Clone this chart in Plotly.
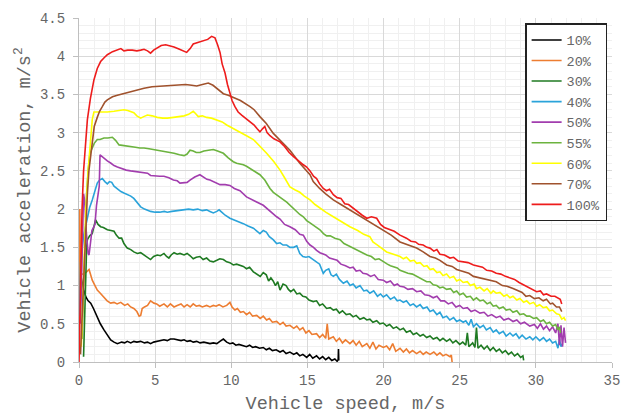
import plotly.graph_objects as go

# ---- data: (vehicle speed m/s, vehicle acceleration m/s^2) ----
labels = ["10%", "20%", "30%", "40%", "50%", "55%", "60%", "70%", "100%"]

pts_10 = [(0.03,0.95),(0.08,1.05),(0.15,1.1),(0.3,0.95),(0.45,0.85),(0.6,0.8),(0.77,0.77),(0.95,0.7),
          (1.2,0.59),(1.4,0.5),(1.64,0.42),(1.85,0.35),(2.08,0.29),(2.3,0.26),(2.52,0.24),(2.8,0.26),
          (3.0,0.25),(3.17,0.27),(3.4,0.25),(3.6,0.27),(3.8,0.26),(4.05,0.27),(4.3,0.25),(4.5,0.26),
          (4.7,0.24),(4.9,0.26),(5.1,0.27),(5.35,0.28),(5.58,0.29),(5.8,0.28),(6.0,0.3),(6.24,0.3),
          (6.5,0.29),(6.7,0.28),(6.9,0.29),(7.1,0.27),(7.3,0.28),(7.5,0.26),(7.73,0.27),(7.95,0.25),
          (8.2,0.26),(8.4,0.25),(8.6,0.24),(8.82,0.25),(9.05,0.24),(9.25,0.27),(9.48,0.3),(9.7,0.26),
          (9.91,0.24),(10.1,0.25),(10.3,0.22),(10.5,0.23),(10.75,0.21),(11.0,0.2),(11.2,0.22),(11.4,0.19),
          (11.6,0.2),(11.85,0.18),(12.1,0.19),(12.3,0.16),(12.5,0.18),(12.7,0.15),(12.95,0.16),(13.2,0.13),
          (13.4,0.15),(13.6,0.11),(13.85,0.13),(14.1,0.1),(14.3,0.12),(14.5,0.08),(14.7,0.1),(14.95,0.06),
          (15.15,0.1),(15.35,0.05),(15.6,0.08),(15.8,0.04),(16.0,0.07),(16.2,0.03),(16.4,0.06),(16.6,0.02),
          (16.8,0.04),(16.95,0.01),(17.02,0.03),(17.04,0.17),(17.06,0.02)]

pts_20 = [(0.02,0.3),(0.05,2.0),(0.1,1.15),(0.3,1.15),(0.5,1.18),(0.66,1.21),(0.75,1.15),(0.87,1.07),
          (1.05,1.0),(1.2,0.94),(1.4,0.9),(1.64,0.85),(1.85,0.8),(2.08,0.77),(2.3,0.78),(2.5,0.76),
          (2.74,0.78),(3.0,0.74),(3.2,0.76),(3.39,0.72),(3.6,0.7),(3.8,0.66),(3.95,0.6),(4.05,0.61),
          (4.15,0.7),(4.3,0.72),(4.5,0.74),(4.7,0.8),(4.92,0.77),(5.1,0.76),(5.3,0.73),(5.58,0.76),
          (5.8,0.72),(6.0,0.76),(6.24,0.72),(6.45,0.74),(6.7,0.76),(6.9,0.72),(7.1,0.75),(7.3,0.72),
          (7.5,0.76),(7.7,0.73),(7.9,0.74),(8.1,0.72),(8.38,0.74),(8.6,0.72),(8.82,0.74),(9.0,0.73),
          (9.2,0.75),(9.45,0.72),(9.7,0.74),(9.91,0.78),(10.05,0.72),(10.24,0.68),(10.4,0.7),(10.6,0.65),
          (10.8,0.66),(11.0,0.62),(11.2,0.65),(11.4,0.6),(11.67,0.61),(11.9,0.57),(12.1,0.6),(12.32,0.55),
          (12.5,0.57),(12.7,0.52),(12.98,0.53),(13.2,0.49),(13.4,0.52),(13.6,0.47),(13.85,0.48),(14.1,0.44),
          (14.3,0.47),(14.5,0.42),(14.7,0.45),(14.9,0.38),(15.1,0.41),(15.3,0.36),(15.6,0.37),(15.8,0.32),
          (16.0,0.36),(16.2,0.31),(16.3,0.5),(16.4,0.3),(16.7,0.33),(16.9,0.27),(17.1,0.31),(17.3,0.25),
          (17.5,0.29),(17.79,0.24),(18.0,0.28),(18.2,0.22),(18.4,0.27),(18.6,0.2),(18.9,0.24),(19.1,0.18),
          (19.3,0.26),(19.5,0.17),(19.7,0.22),(19.98,0.19),(20.2,0.21),(20.4,0.16),(20.6,0.24),(20.8,0.14),
          (21.08,0.18),(21.3,0.13),(21.5,0.17),(21.7,0.12),(21.9,0.15),(22.17,0.11),(22.4,0.14),(22.6,0.1),
          (22.8,0.13),(23.05,0.1),(23.3,0.13),(23.5,0.09),(23.7,0.12),(23.9,0.08),(24.1,0.1),(24.36,0.07),
          (24.45,0.09),(24.5,0.0)]

pts_30 = [(0.3,0.07),(0.33,0.3),(0.4,1.0),(0.5,1.5),(0.55,1.6),(0.7,1.65),(0.87,1.68),(1.0,1.8),
          (1.09,1.86),(1.25,1.8),(1.42,1.77),(1.6,1.76),(1.86,1.73),(2.1,1.72),(2.3,1.71),(2.45,1.66),
          (2.63,1.62),(2.8,1.62),(2.95,1.55),(3.17,1.49),(3.4,1.47),(3.6,1.44),(3.83,1.42),(4.05,1.43),
          (4.27,1.4),(4.5,1.37),(4.7,1.34),(4.9,1.38),(5.14,1.4),(5.35,1.39),(5.58,1.42),(5.75,1.38),
          (5.9,1.36),(6.05,1.4),(6.24,1.43),(6.45,1.41),(6.63,1.42),(6.9,1.4),(7.1,1.42),(7.3,1.39),
          (7.5,1.35),(7.7,1.37),(7.94,1.38),(8.15,1.34),(8.38,1.36),(8.6,1.32),(8.82,1.31),(9.05,1.33),
          (9.25,1.35),(9.48,1.34),(9.7,1.31),(9.91,1.3),(10.13,1.27),(10.35,1.28),(10.57,1.26),(10.79,1.25),
          (11.0,1.22),(11.2,1.24),(11.45,1.18),(11.65,1.15),(11.9,1.12),(12.1,1.17),(12.3,1.14),(12.45,1.06),
          (12.6,1.1),(12.75,1.06),(12.9,1.0),(13.05,1.05),(13.2,0.94),(13.4,1.02),(13.6,1.0),(13.75,0.95),
          (13.9,0.92),(14.1,0.95),(14.3,0.89),(14.5,0.9),(14.7,0.86),(14.9,0.85),(15.1,0.81),(15.38,0.79),
          (15.6,0.8),(15.8,0.74),(16.0,0.76),(16.26,0.7),(16.5,0.71),(16.7,0.68),(16.9,0.69),(17.1,0.64),
          (17.3,0.67),(17.55,0.62),(17.79,0.63),(18.0,0.59),(18.2,0.61),(18.45,0.56),(18.7,0.58),(18.9,0.55),
          (19.1,0.56),(19.3,0.52),(19.55,0.54),(19.75,0.5),(19.98,0.51),(20.2,0.47),(20.4,0.49),(20.64,0.44),
          (20.85,0.46),(21.08,0.42),(21.3,0.44),(21.5,0.39),(21.75,0.41),(21.95,0.36),(22.17,0.38),(22.4,0.34),
          (22.6,0.36),(22.83,0.32),(23.05,0.34),(23.26,0.3),(23.5,0.32),(23.7,0.28),(23.9,0.31),(24.14,0.27),
          (24.35,0.3),(24.55,0.25),(24.75,0.28),(25.0,0.23),(25.2,0.26),(25.4,0.22),(25.5,0.38),(25.6,0.2),
          (25.85,0.25),(26.0,0.19),(26.1,0.45),(26.2,0.18),(26.4,0.22),(26.6,0.17),(26.8,0.21),(27.0,0.15),
          (27.2,0.19),(27.4,0.14),(27.6,0.17),(27.8,0.12),(28.0,0.15),(28.2,0.1),(28.4,0.13),(28.6,0.08),
          (28.8,0.11),(29.0,0.06),(29.15,0.08),(29.2,0.02)]

pts_40 = [(0.05,0.6),(0.11,1.3),(0.3,1.65),(0.55,1.9),(0.7,2.02),(0.87,2.12),(1.05,2.25),(1.2,2.34),
          (1.35,2.38),(1.53,2.4),(1.7,2.36),(1.86,2.33),(2.0,2.36),(2.15,2.35),(2.3,2.3),(2.52,2.26),
          (2.75,2.23),(2.95,2.21),(3.17,2.19),(3.4,2.17),(3.6,2.14),(3.83,2.08),(4.05,2.03),(4.3,2.0),
          (4.5,1.98),(4.7,1.97),(5.0,1.96),(5.3,1.96),(5.6,1.97),(5.8,1.96),(6.1,1.97),(6.4,1.98),
          (6.63,1.98),(6.9,1.99),(7.2,2.0),(7.5,1.99),(7.8,2.0),(8.1,1.98),(8.38,1.99),(8.6,1.97),
          (8.82,1.95),(9.05,1.97),(9.2,1.99),(9.37,1.96),(9.6,1.92),(9.91,1.88),(10.2,1.86),(10.5,1.83),
          (10.79,1.81),(11.1,1.78),(11.45,1.75),(11.7,1.71),(11.88,1.68),(12.1,1.72),(12.3,1.7),(12.5,1.64),
          (12.75,1.6),(12.98,1.55),(13.2,1.56),(13.4,1.53),(13.64,1.53),(13.85,1.5),(14.1,1.5),(14.3,1.52),
          (14.4,1.48),(14.5,1.42),(14.7,1.38),(14.9,1.37),(15.1,1.38),(15.38,1.34),(15.6,1.3),(15.8,1.28),
          (16.04,1.16),(16.2,1.2),(16.4,1.22),(16.55,1.14),(16.7,1.12),(16.9,1.15),(17.1,1.08),(17.36,1.03),
          (17.6,1.06),(17.8,1.0),(18.0,1.02),(18.2,0.97),(18.45,1.0),(18.7,0.93),(18.9,0.94),(19.1,0.9),
          (19.35,0.93),(19.6,0.86),(19.8,0.89),(19.98,0.85),(20.2,0.88),(20.45,0.82),(20.7,0.85),(20.9,0.8),
          (21.08,0.81),(21.3,0.78),(21.5,0.8),(21.75,0.74),(21.95,0.76),(22.17,0.72),(22.4,0.75),(22.6,0.7),
          (22.85,0.72),(23.05,0.66),(23.26,0.68),(23.5,0.62),(23.7,0.65),(23.9,0.58),(24.14,0.6),(24.35,0.55),
          (24.6,0.58),(24.8,0.53),(25.0,0.55),(25.23,0.52),(25.4,0.54),(25.6,0.48),(25.75,0.56),(25.9,0.46),
          (26.1,0.5),(26.33,0.45),(26.55,0.48),(26.75,0.42),(27.0,0.45),(27.2,0.39),(27.4,0.42),(27.6,0.37),
          (27.85,0.4),(28.05,0.34),(28.3,0.38),(28.5,0.34),(28.7,0.37),(28.9,0.31),(29.1,0.35),(29.35,0.3),
          (29.6,0.33),(29.8,0.29),(30.0,0.33),(30.25,0.28),(30.5,0.32),(30.7,0.27),(30.9,0.3),(31.1,0.25),
          (31.3,0.27),(31.45,0.18),(31.55,0.3),(31.65,0.2),(31.75,0.24)]

pts_50 = [(0.1,0.5),(0.2,1.6),(0.3,2.2),(0.38,2.1),(0.48,1.7),(0.6,1.42),(0.66,1.4),(0.75,1.55),
          (0.85,1.72),(0.98,1.77),(1.05,1.8),(1.15,2.05),(1.25,2.2),(1.33,2.3),(1.38,2.71),(1.5,2.69),
          (1.65,2.66),(1.86,2.63),(2.1,2.6),(2.3,2.57),(2.52,2.55),(2.8,2.53),(3.1,2.51),(3.39,2.5),
          (3.7,2.49),(4.0,2.49),(4.27,2.48),(4.5,2.47),(4.7,2.44),(5.0,2.43),(5.3,2.43),(5.58,2.43),
          (5.9,2.41),(6.2,2.38),(6.45,2.37),(6.63,2.34),(6.9,2.35),(7.1,2.35),(7.29,2.38),(7.6,2.42),
          (7.94,2.45),(8.2,2.42),(8.4,2.39),(8.6,2.38),(8.9,2.35),(9.26,2.32),(9.6,2.32),(9.91,2.31),
          (10.2,2.27),(10.57,2.24),(11.0,2.16),(11.23,2.14),(11.6,2.1),(12.1,2.05),(12.4,2.0),(12.7,1.94),
          (12.98,1.9),(13.2,1.87),(13.5,1.8),(13.85,1.77),(14.2,1.73),(14.5,1.67),(14.73,1.66),(14.95,1.58),
          (15.17,1.53),(15.4,1.5),(15.6,1.46),(15.82,1.43),(16.0,1.42),(16.2,1.4),(16.45,1.36),(16.7,1.34),
          (16.95,1.33),(17.2,1.28),(17.5,1.26),(17.79,1.23),(18.0,1.24),(18.2,1.19),(18.45,1.2),(18.65,1.16),
          (18.9,1.15),(19.15,1.12),(19.4,1.14),(19.65,1.08),(19.98,1.07),(20.2,1.04),(20.45,1.06),(20.7,1.0),
          (20.9,1.02),(21.08,0.99),(21.35,0.98),(21.6,0.95),(21.9,0.96),(22.17,0.92),(22.45,0.93),(22.7,0.88),
          (23.0,0.87),(23.26,0.84),(23.5,0.86),(23.75,0.8),(24.0,0.8),(24.25,0.76),(24.5,0.78),(24.75,0.72),
          (25.0,0.74),(25.23,0.7),(25.5,0.71),(25.75,0.66),(26.0,0.68),(26.33,0.64),(26.6,0.65),(26.85,0.6),
          (27.1,0.62),(27.4,0.58),(27.65,0.6),(27.9,0.55),(28.2,0.57),(28.5,0.53),(28.75,0.55),(29.0,0.5),
          (29.25,0.52),(29.6,0.47),(29.9,0.49),(30.1,0.44),(30.3,0.5),(30.5,0.43),(30.7,0.47),(30.9,0.41),
          (31.1,0.46),(31.3,0.38),(31.45,0.5),(31.55,0.22),(31.65,0.48),(31.75,0.2),(31.85,0.45),(31.95,0.25)]

pts_55 = [(0.2,0.3),(0.35,1.2),(0.5,2.2),(0.6,2.5),(0.72,2.73),(0.87,2.8),(1.0,2.86),(1.2,2.91),
          (1.38,2.91),(1.64,2.93),(1.9,2.93),(2.19,2.94),(2.4,2.9),(2.63,2.84),(2.9,2.83),(3.2,2.82),
          (3.39,2.82),(3.7,2.81),(4.0,2.8),(4.27,2.8),(4.6,2.79),(4.9,2.78),(5.14,2.77),(5.5,2.76),
          (5.9,2.74),(6.24,2.73),(6.6,2.71),(6.9,2.7),(7.1,2.72),(7.29,2.77),(7.5,2.76),(7.7,2.74),
          (7.94,2.74),(8.2,2.76),(8.5,2.77),(8.82,2.78),(9.1,2.76),(9.48,2.73),(9.8,2.67),(10.13,2.62),
          (10.35,2.6),(10.6,2.59),(10.79,2.58),(11.0,2.56),(11.3,2.52),(11.67,2.47),(11.88,2.45),(12.2,2.38),
          (12.54,2.27),(12.76,2.22),(13.0,2.18),(13.3,2.14),(13.64,2.09),(14.0,2.02),(14.3,1.97),(14.5,1.93),
          (14.73,1.9),(14.95,1.85),(15.17,1.82),(15.5,1.78),(15.82,1.73),(16.05,1.68),(16.26,1.65),(16.5,1.65),
          (16.8,1.62),(17.14,1.6),(17.4,1.55),(17.7,1.52),(18.0,1.49),(18.2,1.46),(18.45,1.44),(18.7,1.42),
          (18.9,1.4),(19.2,1.38),(19.45,1.34),(19.7,1.35),(19.98,1.31),(20.25,1.28),(20.45,1.26),(20.7,1.24),
          (20.9,1.23),(21.08,1.2),(21.35,1.18),(21.6,1.16),(21.9,1.15),(22.17,1.12),(22.4,1.1),(22.6,1.07),
          (22.83,1.05),(23.05,1.05),(23.26,1.01),(23.5,1.0),(23.7,0.97),(23.9,0.98),(24.14,0.95),(24.4,0.96),
          (24.6,0.91),(24.8,0.93),(25.0,0.88),(25.23,0.9),(25.45,0.85),(25.7,0.86),(25.9,0.81),(26.1,0.84),
          (26.33,0.8),(26.55,0.81),(26.8,0.76),(27.0,0.78),(27.2,0.73),(27.4,0.74),(27.6,0.7),(27.85,0.72),
          (28.05,0.68),(28.3,0.69),(28.5,0.65),(28.75,0.67),(28.95,0.62),(29.2,0.63),(29.4,0.6),(29.6,0.6),
          (29.85,0.57),(30.05,0.58),(30.3,0.53),(30.5,0.55),(30.7,0.5),(30.9,0.52),(31.1,0.47),(31.3,0.49),
          (31.45,0.42),(31.55,0.46),(31.62,0.38)]

pts_60 = [(0.15,0.2),(0.3,1.2),(0.45,2.0),(0.6,2.5),(0.75,2.9),(0.87,3.17),(0.98,3.27),(1.2,3.27),
          (1.5,3.27),(1.86,3.27),(2.3,3.28),(2.7,3.29),(2.95,3.3),(3.2,3.29),(3.4,3.27),(3.6,3.26),
          (3.8,3.22),(4.05,3.19),(4.25,3.21),(4.49,3.23),(4.8,3.22),(5.14,3.2),(5.5,3.19),(5.8,3.19),
          (6.2,3.2),(6.6,3.21),(6.9,3.22),(7.2,3.24),(7.5,3.28),(7.65,3.25),(7.83,3.21),(8.1,3.22),
          (8.38,3.2),(8.7,3.19),(9.04,3.17),(9.4,3.14),(9.7,3.1),(10.1,3.06),(10.57,3.01),(11.0,2.96),
          (11.45,2.91),(11.9,2.82),(12.32,2.73),(12.8,2.62),(13.2,2.51),(13.5,2.41),(13.85,2.29),(14.2,2.25),
          (14.5,2.22),(14.8,2.17),(15.17,2.12),(15.5,2.06),(15.82,2.01),(16.2,1.96),(16.7,1.9),(17.2,1.84),
          (17.79,1.77),(18.3,1.72),(18.7,1.67),(19.1,1.64),(19.3,1.57),(19.6,1.53),(19.9,1.48),(20.2,1.44),
          (20.5,1.42),(20.8,1.4),(21.08,1.38),(21.3,1.35),(21.5,1.37),(21.75,1.32),(22.0,1.33),(22.17,1.29),
          (22.4,1.3),(22.65,1.25),(22.85,1.26),(23.05,1.21),(23.26,1.22),(23.5,1.17),(23.7,1.18),(23.9,1.13),
          (24.14,1.15),(24.35,1.1),(24.6,1.12),(24.8,1.06),(25.0,1.08),(25.23,1.04),(25.5,1.05),(25.7,1.0),
          (25.95,1.02),(26.1,0.96),(26.33,0.98),(26.6,0.93),(26.8,0.96),(27.05,0.9),(27.2,0.93),(27.4,0.9),
          (27.65,0.91),(27.9,0.86),(28.1,0.88),(28.3,0.84),(28.5,0.86),(28.75,0.81),(28.95,0.83),(29.2,0.78),
          (29.4,0.8),(29.6,0.76),(29.85,0.78),(30.05,0.73),(30.25,0.75),(30.48,0.71),(30.7,0.72),(30.9,0.67),
          (31.1,0.68),(31.36,0.63),(31.55,0.62),(31.7,0.56),(31.85,0.58),(31.95,0.54)]

pts_70 = [(0.1,0.1),(0.25,0.8),(0.4,1.6),(0.55,2.2),(0.65,2.5),(0.77,2.73),(0.9,2.98),(1.0,3.08),
          (1.2,3.2),(1.35,3.28),(1.53,3.34),(1.7,3.4),(1.86,3.43),(2.2,3.47),(2.52,3.49),(2.9,3.51),
          (3.39,3.54),(3.8,3.56),(4.27,3.58),(4.8,3.6),(5.36,3.61),(6.0,3.62),(6.63,3.63),(7.0,3.63),
          (7.4,3.62),(7.73,3.61),(8.1,3.63),(8.49,3.65),(8.8,3.62),(9.04,3.58),(9.48,3.51),(9.8,3.49),
          (10.13,3.46),(10.6,3.42),(11.23,3.34),(11.5,3.3),(11.88,3.21),(12.3,3.12),(12.76,2.99),(13.3,2.88),
          (13.85,2.77),(14.5,2.6),(15.17,2.45),(15.38,2.36),(15.8,2.27),(16.2,2.2),(16.7,2.12),(17.2,2.06),
          (17.79,1.99),(18.3,1.93),(18.9,1.86),(19.4,1.79),(19.98,1.73),(20.5,1.66),(21.08,1.57),(21.6,1.53),
          (22.17,1.49),(22.6,1.44),(23.05,1.38),(23.4,1.36),(23.7,1.33),(24.14,1.27),(24.5,1.25),(24.8,1.21),
          (25.23,1.18),(25.6,1.16),(25.9,1.12),(26.33,1.1),(26.7,1.08),(27.0,1.06),(27.4,1.05),(27.8,1.0),
          (28.1,0.99),(28.5,0.96),(28.8,0.93),(29.1,0.91),(29.35,0.86),(29.6,0.87),(29.9,0.83),(30.2,0.84),
          (30.48,0.8),(30.7,0.82),(30.95,0.76),(31.1,0.77),(31.35,0.72),(31.55,0.72),(31.7,0.66)]

pts_100 = [(0.0,0.0),(0.1,1.2),(0.2,2.0),(0.3,2.5),(0.42,2.9),(0.55,3.17),(0.75,3.45),(0.98,3.69),
           (1.2,3.84),(1.42,3.93),(1.65,3.98),(1.86,4.02),(2.2,4.06),(2.52,4.08),(2.75,4.1),(2.95,4.07),
           (3.2,4.08),(3.5,4.08),(3.8,4.07),(4.05,4.08),(4.27,4.09),(4.5,4.07),(4.7,4.04),(4.9,4.08),
           (5.14,4.11),(5.4,4.14),(5.69,4.15),(5.95,4.14),(6.24,4.12),(6.6,4.09),(6.9,4.07),(7.07,4.05),
           (7.3,4.1),(7.5,4.16),(7.8,4.18),(8.16,4.2),(8.45,4.22),(8.71,4.26),(8.93,4.24),(9.1,4.15),
           (9.26,4.05),(9.4,3.9),(9.59,3.78),(9.75,3.63),(9.91,3.52),(10.05,3.42),(10.24,3.34),(10.45,3.27),
           (10.68,3.23),(10.95,3.19),(11.23,3.15),(11.5,3.1),(11.7,3.05),(11.88,3.01),(12.05,3.05),(12.2,3.08),
           (12.35,3.0),(12.54,2.96),(12.8,2.92),(13.2,2.88),(13.5,2.82),(13.8,2.74),(14.07,2.69),(14.4,2.63),
           (14.73,2.58),(14.95,2.55),(15.17,2.5),(15.4,2.43),(15.6,2.4),(15.8,2.33),(16.04,2.27),(16.25,2.24),
           (16.45,2.26),(16.7,2.19),(16.95,2.15),(17.2,2.14),(17.45,2.07),(17.7,2.06),(18.0,2.01),(18.3,1.97),
           (18.6,1.92),(18.9,1.88),(19.2,1.9),(19.55,1.88),(19.8,1.8),(20.05,1.76),(20.4,1.73),(20.7,1.71),
           (21.08,1.66),(21.3,1.64),(21.5,1.62),(21.8,1.58),(22.1,1.57),(22.3,1.54),(22.6,1.53),(22.85,1.5),
           (23.05,1.49),(23.3,1.45),(23.5,1.47),(23.7,1.41),(24.0,1.4),(24.36,1.36),(24.6,1.37),(24.9,1.32),
           (25.23,1.31),(25.55,1.3),(25.9,1.27),(26.2,1.25),(26.5,1.24),(26.77,1.2),(27.1,1.19),(27.4,1.16),
           (27.7,1.15),(28.0,1.12),(28.3,1.1),(28.6,1.08),(28.9,1.04),(29.17,1.01),(29.4,0.99),(29.7,0.96),
           (30.05,0.92),(30.3,0.93),(30.5,0.88),(30.7,0.89),(31.0,0.86),(31.25,0.86),(31.47,0.83),(31.6,0.82),
           (31.7,0.76)]

series = [pts_10, pts_20, pts_30, pts_40, pts_50, pts_55, pts_60, pts_70, pts_100]
colors = ["#000000", "#ED7D31", "#1F7A22", "#2AA3DA", "#A23DAE", "#6CB33F", "#FFFF00", "#A0522D", "#EE1C1C"]

FONT = "Courier New, Liberation Mono, Cousine, monospace"
GREY = "#666666"

fig = go.Figure()
for name, pts, col in zip(labels, series, colors):
    xs = [p[0] for p in pts]
    ys = [p[1] for p in pts]
    fig.add_trace(go.Scatter(x=xs, y=ys, mode="lines", name=name,
                             line=dict(color=col, width=1.6)))

fig.update_layout(
    width=632, height=415,
    margin=dict(l=79, r=20, t=18, b=53),
    paper_bgcolor="white", plot_bgcolor="white",
    font=dict(family=FONT, color=GREY, size=14),
    legend=dict(x=0.837, y=0.985, xanchor="left", yanchor="top",
                bgcolor="white", bordercolor="#222222", borderwidth=1.5,
                font=dict(family=FONT, color=GREY, size=13.5),
                itemwidth=30, tracegroupgap=0),
)
fig.update_xaxes(
    range=[0, 35], dtick=5, tick0=0, automargin=False,
    showgrid=True, gridcolor="#d9d9d9", gridwidth=1,
    minor=dict(dtick=1, showgrid=True, gridcolor="#f0f0f0", gridwidth=1),
    showline=True, linecolor="#bfbfbf", linewidth=1,
    ticks="outside", ticklen=5, tickcolor="#bfbfbf",
    zeroline=False,
    tickfont=dict(family=FONT, color=GREY, size=14),
    title=dict(text="Vehicle speed, m/s", font=dict(family=FONT, color=GREY, size=18.5)),
)
fig.update_yaxes(
    range=[0, 4.5], dtick=0.5, tick0=0, automargin=True,
    showgrid=True, gridcolor="#d9d9d9", gridwidth=1,
    minor=dict(dtick=0.1, showgrid=True, gridcolor="#f0f0f0", gridwidth=1),
    showline=True, linecolor="#bfbfbf", linewidth=1,
    ticks="outside", ticklen=5, tickcolor="#bfbfbf", ticklabelstandoff=5,
    zeroline=False,
    tickfont=dict(family=FONT, color=GREY, size=14),
    title=dict(text="Vehicle acceleration, m/s<sup>2</sup>", font=dict(family=FONT, color=GREY, size=18.5), standoff=4),
)

fig.write_html("out.html")
